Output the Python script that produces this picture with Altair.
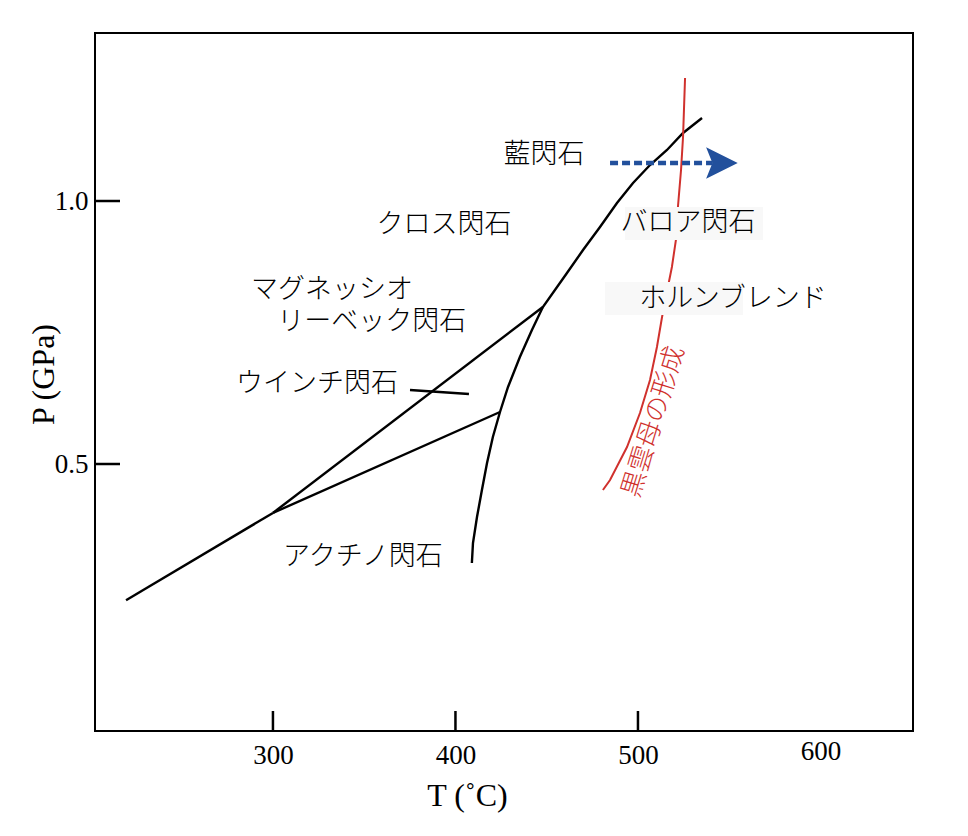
import altair as alt
import pandas as pd

# ---- axis values ----
x_tick_vals = [300, 400, 500]
x_label_vals = [300, 400, 500, 600]
y_tick_vals = [0.5, 1.0]

# ---- black boundary lines (T in degC, P in GPa) ----
base_T = [219.5, 300.0]
base_P = [0.241, 0.407]
upper_T = [300.0, 447.9]
upper_P = [0.407, 0.7985]
lower_T = [300.0, 424.4]
lower_P = [0.407, 0.5989]
curve_T = [409.0, 409.6, 411.8, 414.5, 417.3, 420.5, 424.4, 428.8, 435.3, 441.9,
           447.9, 461.1, 469.9, 479.2, 488.5, 497.3, 506.6, 515.9, 524.7, 535.1]
curve_P = [0.3118, 0.3498, 0.3992, 0.4506, 0.5019, 0.5513, 0.5989, 0.6464, 0.7034, 0.7548,
           0.7985, 0.8631, 0.9068, 0.9506, 0.9962, 1.0342, 1.0684, 1.0970, 1.1293, 1.1578]
pointer_T = [375.1, 407.4]
pointer_P = [0.6407, 0.6331]

# ---- red biotite-formation line ----
red_T = [525.8, 524.7, 523.6, 521.9, 520.8, 518.6, 516.4, 513.2, 510.4, 506.6, 501.1, 494.0, 484.7, 480.8]
red_P = [1.2338, 1.1217, 1.0589, 0.9886, 0.9259, 0.8745, 0.8365, 0.7795, 0.7224, 0.6597, 0.5970, 0.5323, 0.4696, 0.4506]

# ---- blue arrow ----
arrow_T = [484.7, 541.0]
arrow_P = [1.0722, 1.0722]
head_T = [546.0]
head_P = [1.0722]

# ---- labels ----
labels = ["藍閃石", "クロス閃石", "バロア閃石", "マグネッシオ", "リーベック閃石",
          "ウインチ閃石", "ホルンブレンド", "アクチノ閃石"]
label_T = [448.5, 393.7, 527.4, 332.3, 354.2, 324.1, 552.1, 349.3]
label_P = [1.0875, 0.9544, 0.9582, 0.8308, 0.770, 0.652, 0.8137, 0.3232]

red_label = ["黒雲母の形成"]
red_label_T = [508.6]
red_label_P = [0.5804]

# label background boxes
box_T1 = [492.9, 481.9]
box_T2 = [568.5, 557.5]
box_P1 = [0.9886, 0.8460]
box_P2 = [0.9259, 0.7833]

# ---- build tables ----
rows = []
for name, Ts, Ps in [("base", base_T, base_P), ("upper", upper_T, upper_P),
                     ("lower", lower_T, lower_P), ("curve", curve_T, curve_P),
                     ("pointer", pointer_T, pointer_P)]:
    for i, (t, p) in enumerate(zip(Ts, Ps)):
        rows.append({"seg": name, "i": i, "T": t, "P": p})
black_df = pd.DataFrame(rows)
red_df = pd.DataFrame({"i": range(len(red_T)), "T": red_T, "P": red_P})
box_df = pd.DataFrame({"T": box_T1, "T2": box_T2, "P": box_P1, "P2": box_P2})
arrow_df = pd.DataFrame({"T": [arrow_T[0]], "T2": [arrow_T[1]], "P": [arrow_P[0]]})
head_df = pd.DataFrame({"T": head_T, "P": head_P})
label_df = pd.DataFrame({"label": labels, "T": label_T, "P": label_P})
red_label_df = pd.DataFrame({"label": red_label, "T": red_label_T, "P": red_label_P})
xt_df = pd.DataFrame({"T": x_tick_vals})
yt_df = pd.DataFrame({"P": y_tick_vals})

W, H = 818, 698
xscale = alt.Scale(domain=[202.5, 650.7], nice=False, zero=False)
yscale = alt.Scale(domain=[-0.0076, 1.3194], nice=False, zero=False)
serif = "Liberation Serif"
jp = "Noto Sans CJK JP"

x_axis = alt.Axis(values=x_label_vals, tickSize=0, domain=False, grid=False,
                  labelFont=serif, labelFontSize=27, labelColor="black", labelFontWeight="normal",
                  labelBaseline="alphabetic",
                  labelPadding={"condition": {"test": "datum.value === 600", "value": 28}, "value": 32},
                  title="T (˚C)", titleFont=serif, titleFontSize=32, titleFontWeight="normal",
                  titleColor="black", titleX=372, titleY=74, titleBaseline="alphabetic",
                  titleAlign="center")
y_axis = alt.Axis(values=y_tick_vals, format=".1f", tickSize=0, domain=False, grid=False,
                  labelFont=serif, labelFontSize=27, labelColor="black", labelFontWeight="normal",
                  labelPadding=7,
                  title="P (GPa)", titleFont=serif, titleFontSize=32, titleFontWeight="normal",
                  titleColor="black", titleX=-42, titleY=341, titleBaseline="alphabetic",
                  titleAlign="center", titleAngle=270)


def X(field="T"):
    return alt.X(f"{field}:Q", scale=xscale, axis=x_axis, title="T (˚C)")


def Y(field="P"):
    return alt.Y(f"{field}:Q", scale=yscale, axis=y_axis, title="P (GPa)")


black = alt.Chart(black_df).mark_line(color="black", strokeWidth=2.4).encode(
    x=X(), y=Y(), detail="seg:N", order="i:Q",
)

red = alt.Chart(red_df).mark_line(color="#d0312d", strokeWidth=2).encode(
    x=X(), y=Y(), order="i:Q",
)

boxes = alt.Chart(box_df).mark_rect(color="#f8f8f8").encode(
    x=X(), x2="T2:Q", y=Y(), y2="P2:Q",
)

arrow = alt.Chart(arrow_df).mark_rule(color="#22509c", strokeWidth=4.5, strokeDash=[8, 4]).encode(
    x=X(), x2="T2:Q", y=Y(),
)

head = alt.Chart(head_df).mark_point(
    shape="M -1 -1 L 1 0 L -1 1 L -0.6 0 Z", filled=True, color="#22509c",
    size=1000, opacity=1, strokeWidth=0,
).encode(x=X(), y=Y())

texts = alt.Chart(label_df).mark_text(font=jp, fontSize=27, color="black", fontWeight=300,
                                       align="center", baseline="middle").encode(
    x=X(), y=Y(), text="label:N",
)

red_text = alt.Chart(red_label_df).mark_text(font=jp, fontSize=26, color="#d0312d", fontWeight=300,
                                             align="center", baseline="middle", angle=287).encode(
    x=X(), y=Y(), text="label:N",
)

xticks = alt.Chart(xt_df).mark_rule(color="black", strokeWidth=2.5).encode(
    x=X(), y=alt.value(H), y2=alt.value(H - 20),
)
yticks = alt.Chart(yt_df).mark_rule(color="black", strokeWidth=2.5).encode(
    y=Y(), x=alt.value(0), x2=alt.value(25),
)

chart = alt.layer(black, red, boxes, arrow, head, texts, red_text, xticks, yticks).properties(
    width=W, height=H,
    autosize=alt.AutoSizeParams(type="none"),
    padding={"left": 87, "top": 25, "right": 47, "bottom": 97},
    background="white",
).configure_view(stroke="black", strokeWidth=2)

chart.save("out.html", embed_options={"renderer": "svg", "actions": False})
